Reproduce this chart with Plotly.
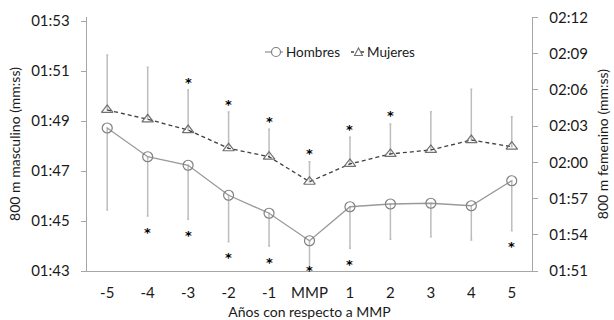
import plotly.graph_objects as go

years = ["-5", "-4", "-3", "-2", "-1", "MMP", "1", "2", "3", "4", "5"]
# times in seconds
men = [108.72, 107.57, 107.23, 106.03, 105.31, 104.21, 105.57, 105.68, 105.71, 105.61, 106.61]
men_sd = [3.28, 2.37, 2.16, 1.86, 1.31, 1.09, 1.66, 1.41, 1.34, 1.37, 2.00]
women = [124.33, 123.56, 122.67, 121.16, 120.46, 118.39, 119.86, 120.69, 121.02, 121.84, 121.29]
women_sd = [4.55, 4.30, 3.31, 3.00, 2.27, 1.66, 2.21, 2.48, 3.17, 4.20, 2.48]
men_sig = [0, 1, 1, 1, 1, 1, 1, 0, 0, 0, 1]
women_sig = [0, 0, 1, 1, 1, 1, 1, 1, 0, 0, 0]

left_ticks = [103, 105, 107, 109, 111, 113]
right_ticks = [111, 114, 117, 120, 123, 126, 129, 132]


def mmss(s):
    return "%02d:%02d" % (s // 60, s % 60)


FONT = "Lato"
AX = "#a6a6a6"
ERR = "#bdbdbd"
MEN_LINE = "#9a9a9a"
MEN_MK = "#808080"
WOM_LINE = "#404040"
WOM_MK = "#707070"

# plot-area geometry (pixels) used for the hand-placed legend
PL, PR, PT, PB = 87, 532, 17, 271


def px(x):
    return (x - PL) / (PR - PL)


def py(y):
    return (PB - y) / (PB - PT)


fig = go.Figure()
fig.add_trace(go.Scatter(
    x=years, y=men, name="Hombres", mode="lines+markers",
    line=dict(color=MEN_LINE, width=1.3),
    marker=dict(symbol="circle-open", size=10, color=MEN_MK, line=dict(width=1.2)),
    error_y=dict(type="data", symmetric=False, array=[0] * len(men), arrayminus=men_sd,
                 color=ERR, thickness=1.5, width=1),
    yaxis="y", showlegend=False, hoverinfo="skip"))
fig.add_trace(go.Scatter(
    x=years, y=women, name="Mujeres", mode="lines+markers",
    line=dict(color=WOM_LINE, width=1.3, dash="4px,3px"),
    marker=dict(symbol="triangle-up-open", size=10, color=WOM_MK, line=dict(width=1.2)),
    error_y=dict(type="data", symmetric=False, array=women_sd, arrayminus=[0] * len(women),
                 color=ERR, thickness=1.5, width=1),
    yaxis="y2", showlegend=False, hoverinfo="skip"))

ann = []
for i in range(len(years)):
    if men_sig[i]:
        y = max(men[i] - men_sd[i] - 13 / 25.0, 103 + 3.5 / 25.0)
        ann.append(dict(x=i, y=y, xref="x", yref="y", text="<b>*</b>", showarrow=False,
                        font=dict(family="DejaVu Sans", size=13, color="black"),
                        yanchor="middle", yshift=-3))
    if women_sig[i]:
        y = women[i] + women_sd[i] + 11 / 12.08
        ann.append(dict(x=i, y=y, xref="x", yref="y2", text="<b>*</b>", showarrow=False,
                        font=dict(family="DejaVu Sans", size=13, color="black"),
                        yanchor="middle", yshift=-3))

# hand-made legend (short symbol samples as in the original)
ly = py(52)
shapes = [
    dict(type="line", xref="paper", yref="paper", x0=px(265), x1=px(283), y0=ly, y1=ly,
         line=dict(color=MEN_LINE, width=1.3)),
    dict(type="circle", xref="paper", yref="paper", x0=px(271.5), x1=px(280.5),
         y0=py(56.5), y1=py(47.5), line=dict(color=MEN_MK, width=1.2), fillcolor="white"),
    dict(type="line", xref="paper", yref="paper", x0=px(351), x1=px(364), y0=ly, y1=ly,
         line=dict(color=WOM_LINE, width=1.3, dash="3px,2px")),
    dict(type="path", xref="paper", yref="paper",
         path="M %f,%f L %f,%f L %f,%f Z" % (px(354.5), py(55.5), px(362.5), py(55.5), px(358.5), py(48)),
         line=dict(color=WOM_MK, width=1.1), fillcolor="white"),
]
ann.append(dict(x=px(283.5), y=ly, xref="paper", yref="paper", text="Hombres", showarrow=False,
                xanchor="left", yanchor="middle", font=dict(size=13.5)))
ann.append(dict(x=px(364.5), y=ly, xref="paper", yref="paper", text="Mujeres", showarrow=False,
                xanchor="left", yanchor="middle", font=dict(size=13.5)))

fig.update_layout(
    width=614, height=320,
    margin=dict(l=PL, r=614 - PR, t=PT, b=320 - PB, autoexpand=False),
    paper_bgcolor="white", plot_bgcolor="white",
    font=dict(family=FONT, size=14, color="#1a1a1a"),
    showlegend=False,
    hovermode=False,
    xaxis=dict(type="category", range=[-0.5, 10.5], showline=True, linecolor=AX,
               linewidth=1.3, ticks="", showgrid=False, zeroline=False, automargin=False,
               ticklabelstandoff=8,
               title=dict(text="Años con respecto a MMP", standoff=8, font=dict(size=14)),
               tickfont=dict(size=15)),
    yaxis=dict(range=[103, 103 + (PB - PT) / 25.0], tickvals=left_ticks,
               ticktext=[mmss(v) for v in left_ticks], showline=True, linecolor=AX,
               linewidth=1.3, ticks="outside", ticklen=5, tickcolor=AX, showgrid=False,
               zeroline=False, automargin=False, ticklabelstandoff=8, tickfont=dict(size=15),
               title=dict(text="800 m masculino (mm:ss)", standoff=7, font=dict(size=14))),
    yaxis2=dict(range=[111, 111 + (PB - PT) / 12.08], tickvals=right_ticks,
                ticktext=[mmss(v) for v in right_ticks], overlaying="y", side="right",
                showline=True, linecolor=AX, linewidth=1.3, ticks="outside", ticklen=5,
                tickcolor=AX, showgrid=False, zeroline=False, automargin=False,
                ticklabelstandoff=8, tickfont=dict(size=15),
                title=dict(text="800 m femenino (mm:ss)", standoff=11, font=dict(size=14))),
    annotations=ann,
    shapes=shapes,
)

fig.write_html("out.html", config={"displayModeBar": False, "staticPlot": True},
               post_script="document.body.style.margin='0';document.body.style.padding='0';")
